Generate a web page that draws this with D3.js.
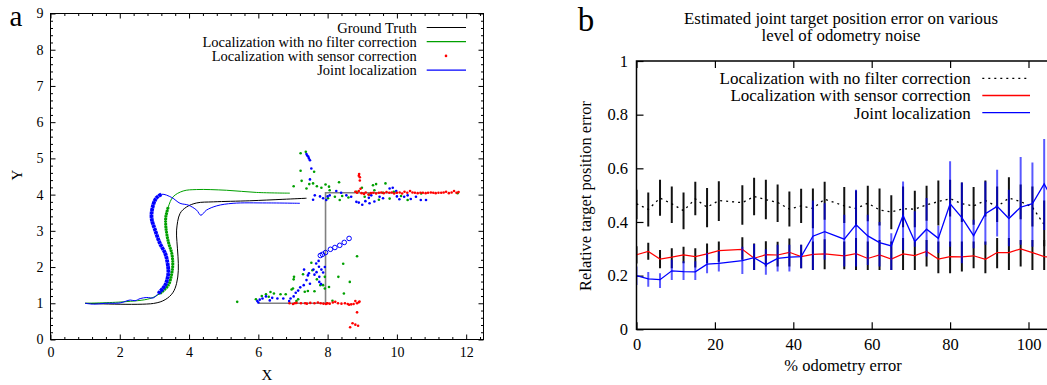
<!DOCTYPE html>
<html><head><meta charset="utf-8">
<script src="https://cdn.jsdelivr.net/npm/d3@7"></script>
<style>body{margin:0;background:#fff}svg{display:block;font-family:"Liberation Serif","Times New Roman",serif}</style>
</head><body><svg id="c" width="1047" height="385"></svg>
<script>
// ---------- Panel a data ----------
const groundTruth = [[1,1],[2.97,0.995],[3.31,1.1],[3.53,1.29],[3.64,1.55],[3.69,1.91],[3.68,2.3],[3.65,2.7],[3.64,3.02],[3.74,3.48],[3.93,3.66],[4.22,3.77],[4.7,3.8],[5.75,3.83],[6.71,3.87],[7.39,3.9]];
const groundTruth2 = [[6.0,1.0],[7.94,1.0],[7.94,4.05],[10.0,4.05]];
const noFilterPath = [[1,1],[2.1,1.04],[2.87,1.13],[3.16,1.27],[3.4,1.5],[3.5,1.82],[3.53,2.1],[3.5,2.38],[3.4,2.7],[3.33,3.11],[3.33,3.39],[3.4,3.66],[3.54,3.94],[3.83,4.1],[4.22,4.14],[5.08,4.12],[5.95,4.06],[6.91,4.04]];
const noFilterDense = [3, 11];
const jointPath = [[1,1],[1.24,0.975],[1.59,1.0],[2.01,1.01],[2.3,1.09],[2.44,1.07],[2.59,1.13],[2.78,1.16],[2.97,1.15],[3.11,1.27],[3.31,1.5],[3.4,1.82],[3.38,2.1],[3.31,2.38],[3.16,2.65],[3.02,3.02],[2.92,3.34],[2.94,3.62],[3.05,3.9],[3.21,4.01],[3.5,3.92],[3.74,3.76],[3.98,3.71],[4.22,3.57],[4.34,3.43],[4.5,3.57],[4.8,3.69],[5.27,3.76],[6.24,3.77],[7.2,3.76]];
const jointDense = [9, 19];
const noFilterPts = [[5.39,1.04],[5.93,1.11],[6.22,1.25],[6.35,1.31],[6.45,1.27],[6.64,1.25],[6.79,1.25],[6.96,1.38],[7.0,1.41],[7.03,1.73],[7.02,1.66],[7.29,1.8],[7.34,1.32],[7.43,1.34],[7.53,2.12],[7.56,1.91],[7.69,1.66],[7.62,1.33],[7.79,1.5],[7.92,1.73],[7.87,1.5],[8.04,1.45],[7.92,1.41],[8.14,1.07],[8.31,1.73],[8.45,2.09],[8.47,1.27],[8.64,1.59],[8.85,2.3],[7.15,1.11],[6.1,1.2],[6.3,1.18],[7.1,1.06],
[7.22,5.14],[7.37,5.18],[7.22,4.66],[7.61,4.63],[7.02,4.23],[7.39,4.17],[7.25,4.38],[7.47,4.29],[7.58,4.31],[7.69,4.23],[7.82,4.19],[7.94,4.28],[8.04,4.22],[8.06,4.12],[8.33,4.34],[8.21,3.94],[8.01,3.9],[8.35,3.85],[8.42,3.96],[8.83,4.08],[8.99,4.19],[9.07,3.94],[9.31,4.26],[9.4,4.29],[9.35,4.12],[9.48,3.86],[9.67,4.31],[9.79,3.89],[9.91,4.08],[10.12,3.96],[10.31,3.85],[10.7,4.03],[8.6,3.92],[9.2,4.0],[9.6,4.05],[11.75,4.04]];
const jointPts = [[5.97,1.06],[6.04,1.1],[6.12,1.13],[6.22,1.19],[6.33,1.08],[6.55,1.13],[6.72,1.13],[6.89,1.06],[6.93,1.13],[7.02,1.19],[7.08,1.29],[7.15,1.35],[7.21,1.44],[7.31,1.5],[7.32,1.93],[7.39,1.64],[7.43,1.77],[7.46,1.83],[7.49,1.54],[7.59,1.93],[7.62,1.79],[7.67,2.1],[7.74,2.17],[7.68,1.86],[7.76,1.73],[7.76,1.59],[7.81,1.53],[7.87,1.85],[7.92,2.0],[7.75,2.01],[7.82,1.93],[6.0,1.02],[6.4,1.15],
[7.39,5.12],[7.44,5.05],[7.49,4.95],[7.53,4.72],[7.49,4.42],[7.63,3.98],[7.58,3.86],[7.78,3.95],[7.87,3.9],[7.96,3.85],[8.06,3.98],[8.25,4.1],[8.39,4.05],[8.54,3.98],[8.68,3.94],[8.83,3.8],[9.0,3.72],[9.09,3.82],[9.19,3.91],[9.26,3.98],[9.35,3.81],[9.5,3.94],[9.79,4.17],[9.88,4.19],[9.98,4.1],[10.07,3.87],[10.21,3.94],[10.31,3.98],[10.55,3.94],[10.69,3.85],[10.84,3.85],[9.21,3.76],[7.41,5.08],[7.46,5.0],[8.0,3.95],[8.9,3.78],[9.6,3.9],[10.0,3.95],[10.4,3.88]];
const sensorPts = [[6.9,1.0],[7.0,0.98],[7.1,1.01],[7.23,1.0],[7.35,1.0],[7.5,1.01],[7.62,1.0],[7.72,1.02],[7.8,1.0],[7.88,0.99],[7.95,0.98],[8.0,1.0],[8.06,0.99],[8.15,1.02],[8.22,1.04],[8.3,1.0],[8.4,0.99],[8.5,1.0],[8.58,0.98],[8.62,0.96],[8.68,0.97],[8.75,0.98],[8.8,1.06],[8.85,1.0],[8.9,1.03],[8.92,1.05],[8.85,0.75],[8.72,0.45],[8.65,0.34],[8.8,0.41],[8.88,0.38],[7.05,1.0],[7.4,0.99],[7.98,1.0],
[8.91,4.57],[8.93,4.48],[8.93,4.39],[8.95,4.16],[8.9,4.52],[8.8,4.08],[8.85,4.05],[8.9,4.1],[8.98,4.04],[9.05,4.02],[9.1,4.06],[9.18,4.0],[9.25,4.04],[9.32,4.05],[9.4,4.03],[9.48,4.05],[9.55,4.06],[9.62,4.04],[9.7,4.07],[9.78,4.05],[9.85,4.06],[9.92,4.03],[10.0,4.05],[10.08,4.06],[10.15,4.03],[10.22,4.08],[10.3,4.05],[10.38,4.1],[10.45,4.06],[10.52,4.05],[10.6,4.04],[10.68,4.05],[10.75,4.05],[10.83,4.04],[10.9,4.05],[10.98,4.06],[11.05,4.05],[11.12,4.04],[11.2,4.05],[11.28,4.05],[11.35,4.06],[11.42,4.08],[11.5,4.04],[11.58,4.06],[11.65,4.1],[11.72,4.05],[11.78,4.07]];
const jointCircles = [[7.79,2.32],[7.85,2.35],[7.94,2.4],[8.08,2.49],[8.21,2.54],[8.35,2.6],[8.48,2.68],[8.62,2.79]];
const legendA = ["Ground Truth","Localization with no filter correction","Localization with sensor correction","Joint localization"];
const xTicksA = [0,2,4,6,8,10,12];
const yTicksA = [0,1,2,3,4,5,6,7,8,9];

// ---------- Panel b data ----------
const odometry = [0,3,6,9,12,15,18,21,27,30,33,36,39,42,45,48,53,56,59,62,65,68,71,74,77,80,83,86,89,92,95,98,101,104,107];
const noFilterErr = [0.468,0.447,0.489,0.468,0.442,0.486,0.455,0.48,0.472,0.495,0.483,0.473,0.448,0.46,0.45,0.485,0.46,0.45,0.47,0.445,0.437,0.449,0.448,0.464,0.476,0.487,0.468,0.46,0.48,0.457,0.489,0.476,0.455,0.39,0.37];
const noFilterHi = [0.52,0.51,0.557,0.532,0.51,0.55,0.527,0.552,0.537,0.565,0.557,0.54,0.514,0.524,0.525,0.55,0.53,0.517,0.535,0.525,0.50,0.532,0.516,0.535,0.555,0.557,0.547,0.53,0.555,0.532,0.567,0.54,0.532,0.48,0.46];
const noFilterLo = [0.41,0.383,0.423,0.396,0.373,0.425,0.38,0.404,0.39,0.425,0.41,0.40,0.383,0.396,0.377,0.408,0.396,0.383,0.403,0.387,0.373,0.38,0.38,0.405,0.387,0.42,0.40,0.39,0.42,0.40,0.42,0.41,0.383,0.31,0.30];
const sensorErr = [0.278,0.29,0.262,0.269,0.277,0.271,0.281,0.293,0.298,0.265,0.278,0.277,0.287,0.271,0.279,0.281,0.274,0.282,0.264,0.277,0.262,0.281,0.275,0.29,0.262,0.271,0.27,0.274,0.261,0.286,0.286,0.30,0.286,0.271,0.265];
const sensorHi = [0.31,0.323,0.296,0.302,0.308,0.302,0.32,0.327,0.343,0.32,0.328,0.326,0.338,0.315,0.327,0.336,0.327,0.34,0.327,0.333,0.327,0.34,0.333,0.333,0.327,0.327,0.327,0.327,0.327,0.34,0.34,0.333,0.333,0.333,0.32];
const sensorLo = [0.245,0.259,0.228,0.228,0.246,0.23,0.246,0.252,0.259,0.221,0.234,0.234,0.234,0.228,0.221,0.224,0.224,0.221,0.221,0.221,0.221,0.221,0.221,0.234,0.209,0.209,0.215,0.228,0.209,0.228,0.221,0.234,0.221,0.221,0.22];
const jointErr = [0.20,0.188,0.185,0.218,0.215,0.214,0.243,0.246,0.256,0.267,0.241,0.264,0.269,0.271,0.347,0.364,0.336,0.39,0.348,0.323,0.311,0.424,0.327,0.373,0.339,0.468,0.416,0.349,0.431,0.458,0.413,0.455,0.468,0.542,0.46];
const jointHi = [0.234,0.214,0.209,0.259,0.254,0.254,0.284,0.29,0.308,0.318,0.298,0.315,0.315,0.315,0.48,0.47,0.427,0.52,0.427,0.40,0.358,0.551,0.44,0.489,0.386,0.626,0.547,0.408,0.551,0.595,0.52,0.642,0.622,0.709,0.6];
const jointLo = [0.165,0.159,0.154,0.184,0.184,0.184,0.209,0.215,0.206,0.221,0.203,0.215,0.215,0.228,0.221,0.26,0.234,0.234,0.24,0.234,0.221,0.296,0.308,0.271,0.284,0.308,0.246,0.302,0.315,0.346,0.31,0.315,0.308,0.37,0.35];
const legendB = ["Localization with no filter correction","Localization with sensor correction","Joint localization"];
const titleB = ["Estimated joint target position error on various","level of odometry noise"];
const xTicksB = [0,20,40,60,80,100];
const yTicksB = [0,0.2,0.4,0.6,0.8,1];

const svg = d3.select("#c");
const GREEN = "#00a000", BLUE = "#0000ff", RED = "#ff0000";

// ================= Panel a =================
const xA = d3.scaleLinear([0,12.5],[50.5,483.5]);
const yA = d3.scaleLinear([0,9],[339.5,13.5]);
const gA = svg.append("g");

function ticksA(){
  const minorX = d3.range(0,12.41,0.4).filter(v=>Math.abs(v/2-Math.round(v/2))>1e-6);
  const minorY = d3.range(0,9.01,0.2).filter(v=>Math.abs(v-Math.round(v))>1e-6);
  const ax = (axis,tr)=>{const g=gA.append("g").attr("transform",tr).call(axis);g.select(".domain").remove();g.selectAll("line").attr("stroke","#000");return g;};
  const b = ax(d3.axisBottom(xA).tickValues(xTicksA).tickSize(-5).tickPadding(7.5),"translate(0,339.5)");
  b.selectAll("text").attr("font-size",14).attr("font-family","Liberation Serif").attr("fill","#000");
  ax(d3.axisBottom(xA).tickValues(minorX).tickSize(-2.5).tickFormat(""),"translate(0,339.5)");
  ax(d3.axisTop(xA).tickValues(xTicksA).tickSize(-5).tickFormat(""),"translate(0,13.5)");
  ax(d3.axisTop(xA).tickValues(minorX).tickSize(-2.5).tickFormat(""),"translate(0,13.5)");
  const l = ax(d3.axisLeft(yA).tickValues(yTicksA).tickSize(-5).tickPadding(7),"translate(50.5,0)");
  l.selectAll("text").attr("font-size",14).attr("font-family","Liberation Serif").attr("fill","#000");
  ax(d3.axisLeft(yA).tickValues(minorY).tickSize(-2.5).tickFormat(""),"translate(50.5,0)");
  ax(d3.axisRight(yA).tickValues(yTicksA).tickSize(-5).tickFormat(""),"translate(483.5,0)");
  ax(d3.axisRight(yA).tickValues(minorY).tickSize(-2.5).tickFormat(""),"translate(483.5,0)");
}
ticksA();

const lineA = d3.line().x(d=>xA(d[0])).y(d=>yA(d[1])).curve(d3.curveCatmullRom.alpha(0.5));
const lineAS = d3.line().x(d=>xA(d[0])).y(d=>yA(d[1]));
gA.append("path").attr("d",lineAS(groundTruth2)).attr("fill","none").attr("stroke","#808080").attr("stroke-width",1.6);
gA.append("path").attr("d",lineA(groundTruth)).attr("fill","none").attr("stroke","#000").attr("stroke-width",1);
gA.append("path").attr("d",lineA(noFilterPath)).attr("fill","none").attr("stroke",GREEN).attr("stroke-width",1);
gA.append("path").attr("d",lineA(noFilterPath.slice(noFilterDense[0],noFilterDense[1]+1))).attr("fill","none").attr("stroke",GREEN).attr("stroke-width",3).attr("stroke-dasharray","2.2,0.5");
gA.append("path").attr("d",lineA(jointPath)).attr("fill","none").attr("stroke",BLUE).attr("stroke-width",1);
gA.append("path").attr("d",lineA(jointPath.slice(jointDense[0],jointDense[1]+1))).attr("fill","none").attr("stroke",BLUE).attr("stroke-width",3.8).attr("stroke-dasharray","3,0.4");

const dots = (data,color)=>gA.append("g").selectAll("circle").data(data).join("circle")
  .attr("cx",d=>xA(d[0])).attr("cy",d=>yA(d[1])).attr("r",1.3).attr("fill",color);
dots(noFilterPts,GREEN);
dots(jointPts,BLUE);
dots(sensorPts,RED);
gA.append("g").selectAll("circle").data(jointCircles).join("circle")
  .attr("cx",d=>xA(d[0])).attr("cy",d=>yA(d[1])).attr("r",2.3).attr("fill","none").attr("stroke",BLUE).attr("stroke-width",1);

gA.append("rect").attr("x",50.5).attr("y",13.5).attr("width",433).attr("height",326).attr("fill","none").attr("stroke","#000").attr("stroke-width",1);

// legend a
const legA = gA.append("g").attr("font-size",14.5).attr("fill","#000");
legendA.forEach((t,i)=>{
  const y = 27.5 + i*14.2;
  legA.append("text").attr("x",416.7).attr("y",y).attr("dy","0.35em").attr("text-anchor","end").text(t);
  if(i===2){
    legA.append("circle").attr("cx",446).attr("cy",y).attr("r",1.3).attr("fill",RED);
  } else {
    legA.append("line").attr("x1",426.7).attr("x2",466).attr("y1",y).attr("y2",y)
      .attr("stroke",[ "#000",GREEN,null,BLUE][i]).attr("stroke-width",1.2);
  }
});
svg.append("text").attr("x",16).attr("y",26).attr("text-anchor","middle").attr("font-size",29).text("a");
svg.append("text").attr("x",267).attr("y",380).attr("text-anchor","middle").attr("font-size",15).text("X");
svg.append("text").attr("transform","translate(16.5,175) rotate(-90)").attr("dy","0.35em").attr("text-anchor","middle").attr("font-size",15).text("Y");

// ================= Panel b =================
const xB = d3.scaleLinear([0,110],[636.5,1067.7]);
const yB = d3.scaleLinear([0,1],[329.3,61]);
const gB = svg.append("g");
svg.append("clipPath").attr("id","clipB").append("rect").attr("x",636.5).attr("y",61).attr("width",431).attr("height",268.3);

function ticksB(){
  const ax = (axis,tr)=>{const g=gB.append("g").attr("transform",tr).call(axis);g.select(".domain").remove();g.selectAll("line").attr("stroke","#000").attr("stroke-width",1.2);return g;};
  const b = ax(d3.axisBottom(xB).tickValues(xTicksB).tickSize(-7).tickPadding(9),"translate(0,329.3)");
  b.selectAll("text").attr("font-size",16.5).attr("font-family","Liberation Serif").attr("fill","#000");
  ax(d3.axisTop(xB).tickValues(xTicksB).tickSize(-7).tickFormat(""),"translate(0,61)");
  const l = ax(d3.axisLeft(yB).tickValues(yTicksB).tickSize(-7).tickPadding(8.5).tickFormat(d=>d===0?"0":d===1?"1":d.toFixed(1)),"translate(636.5,0)");
  l.selectAll("text").attr("font-size",16.5).attr("font-family","Liberation Serif").attr("fill","#000");
}
ticksB();

const plotB = gB.append("g").attr("clip-path","url(#clipB)");
const idx = d3.range(odometry.length);
function bars(hi,lo,color,op){
  plotB.append("g").selectAll("line").data(idx).join("line")
    .attr("x1",i=>xB(odometry[i])).attr("x2",i=>xB(odometry[i]))
    .attr("y1",i=>yB(hi[i])).attr("y2",i=>yB(lo[i]))
    .attr("stroke",color).attr("stroke-width",2).attr("stroke-opacity",op);
}
const lineB = d3.line().x(i=>xB(odometry[i]));
bars(noFilterHi,noFilterLo,"#111",1);
bars(sensorHi,sensorLo,"#111",1);
plotB.append("path").attr("d",lineB.y(i=>yB(noFilterErr[i]))(idx)).attr("fill","none").attr("stroke","#000").attr("stroke-width",1.3).attr("stroke-dasharray","2,4");
plotB.append("path").attr("d",lineB.y(i=>yB(sensorErr[i]))(idx)).attr("fill","none").attr("stroke",RED).attr("stroke-width",1.2);
bars(jointHi,jointLo,BLUE,0.65);
plotB.append("path").attr("d",lineB.y(i=>yB(jointErr[i]))(idx)).attr("fill","none").attr("stroke",BLUE).attr("stroke-width",1.3);

gB.append("rect").attr("x",636.5).attr("y",61).attr("width",431).attr("height",268.3).attr("fill","none").attr("stroke","#000").attr("stroke-width",1.5);

// legend b
const legB = gB.append("g").attr("font-size",17).attr("fill","#000");
const sampleStyles = [{c:"#000",d:"2,4"},{c:RED,d:null},{c:BLUE,d:null}];
legendB.forEach((t,i)=>{
  const y = 78.3 + i*17.2;
  legB.append("text").attr("x",970.7).attr("y",y).attr("dy","0.35em").attr("text-anchor","end").text(t);
  legB.append("line").attr("x1",982.3).attr("x2",1030).attr("y1",y).attr("y2",y)
    .attr("stroke",sampleStyles[i].c).attr("stroke-width",1.3).attr("stroke-dasharray",sampleStyles[i].d);
});
svg.append("text").attr("x",586).attr("y",31).attr("text-anchor","middle").attr("font-size",33).text("b");
titleB.forEach((t,i)=>{
  svg.append("text").attr("x",841).attr("y",23.5+i*17.5).attr("text-anchor","middle").attr("font-size",16.8).text(t);
});
svg.append("text").attr("x",843).attr("y",371).attr("text-anchor","middle").attr("font-size",16.5).text("% odometry error");
svg.append("text").attr("transform","translate(585.5,196) rotate(-90)").attr("dy","0.35em").attr("text-anchor","middle").attr("font-size",16.5).text("Relative target position error");
</script></body></html>
